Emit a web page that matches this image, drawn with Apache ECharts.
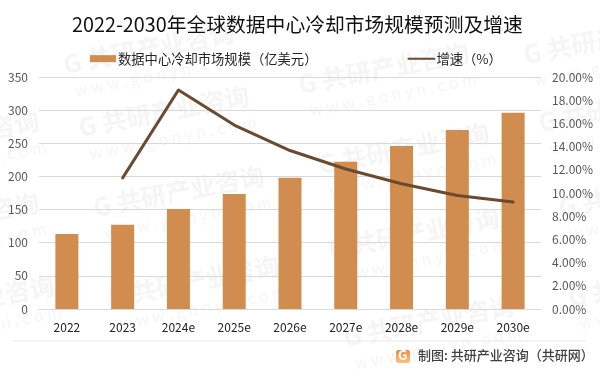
<!DOCTYPE html>
<html><head><meta charset="utf-8">
<style>html,body{margin:0;padding:0;background:#fff}#c{width:600px;height:373px}</style>
<script src="https://cdn.jsdelivr.net/npm/echarts@6/dist/echarts.min.js"></script>
</head><body><div id="c"></div>
<script>
const categories = ['2022','2023','2024e','2025e','2026e','2027e','2028e','2029e','2030e'];
const marketSize = [113,127,151,173.5,198,222,246,270,296];
const growth = [null,11.3,18.88,15.86,13.66,12.07,10.8,9.78,9.22];
const FONT = '"Noto Sans CJK SC","Noto Sans",sans-serif';
const wmSpots = [[65,72],[80,135],[300,92],[525,62],[95,215],[110,305],[330,257],[345,345],[320,172],[540,130],[560,215],[570,305],[-130,160],[-130,242],[-115,325]];
const wmColor = '#f5f5f5';
const watermarks = [];
wmSpots.forEach(([x,y]) => {
  watermarks.push({type:'group',x:x,y:y,rotation:0.19,silent:true,z:-10,children:[
    {type:'text',style:{x:0,y:-20,text:'G 共研产业咨询',font:'bold 25px '+FONT,fill:wmColor}},
    {type:'text',style:{x:6,y:12,text:'w w w . g o n y n . c o m',font:'16px '+FONT,fill:wmColor}}
  ]});
});
const chart = echarts.init(document.getElementById('c'),null,{renderer:'canvas'});
chart.setOption({
  animation:false,
  backgroundColor:'#fff',
  title:{text:'2022-2030年全球数据中心冷却市场规模预测及增速',left:67,top:10,
    textStyle:{fontFamily:FONT,fontSize:19.8,fontWeight:'normal',color:'#111'}},
  legend:{left:85,top:47,itemWidth:26,itemHeight:7,itemGap:90,
    textStyle:{fontFamily:FONT,fontSize:13.3,color:'#262626',padding:[0,0,0,-3]},
    data:[{name:'数据中心冷却市场规模（亿美元）',icon:'rect'},
          {name:'增速（%）',itemStyle:{opacity:0}}]},
  grid:{left:39,right:59,top:77,bottom:64},
  xAxis:{type:'category',data:categories,
    axisTick:{show:false},axisLine:{lineStyle:{color:'#d9d9d9',width:1}},
    axisLabel:{fontFamily:FONT,fontSize:12,color:'#222',margin:12}},
  yAxis:[
    {type:'value',min:0,max:350,interval:50,axisLine:{show:false},axisTick:{show:false},
     splitLine:{lineStyle:{color:'#d9d9d9',width:1}},
     axisLabel:{fontFamily:FONT,fontSize:12,color:'#595959',margin:11}},
    {type:'value',min:0,max:20,interval:2,position:'right',axisLine:{show:false},axisTick:{show:false},
     splitLine:{show:false},
     axisLabel:{fontFamily:FONT,fontSize:12,color:'#595959',margin:11,formatter:v=>v.toFixed(2)+'%'}}
  ],
  series:[
    {name:'数据中心冷却市场规模（亿美元）',type:'bar',data:marketSize,barWidth:23,
     itemStyle:{color:'#D18D4F'}},
    {name:'增速（%）',type:'line',yAxisIndex:1,data:growth,symbol:'none',connectNulls:false,
     lineStyle:{color:'#6B4A2F',width:3,cap:'round',join:'round'},itemStyle:{color:'#6B4A2F'}}
  ],
  graphic:watermarks.concat([
    {type:'line',shape:{x1:13,y1:341,x2:586,y2:341},style:{stroke:'#e8e8e8',lineWidth:1},silent:true},
    {type:'rect',shape:{x:396,y:350,width:14,height:13,r:2},
     style:{fill:{type:'linear',x:0,y:0,x2:0,y2:1,colorStops:[{offset:0,color:'#F08A4B'},{offset:1,color:'#FBC27A'}]}},silent:true},
    {type:'text',style:{x:398,y:349,text:'G',font:'bold 13px '+FONT,fill:'#fff'},silent:true},
    {type:'text',style:{x:418,y:349,text:'制图: 共研产业咨询（共研网）',font:'500 13px '+FONT,fill:'#404040'},silent:true}
  ])
});
</script></body></html>
